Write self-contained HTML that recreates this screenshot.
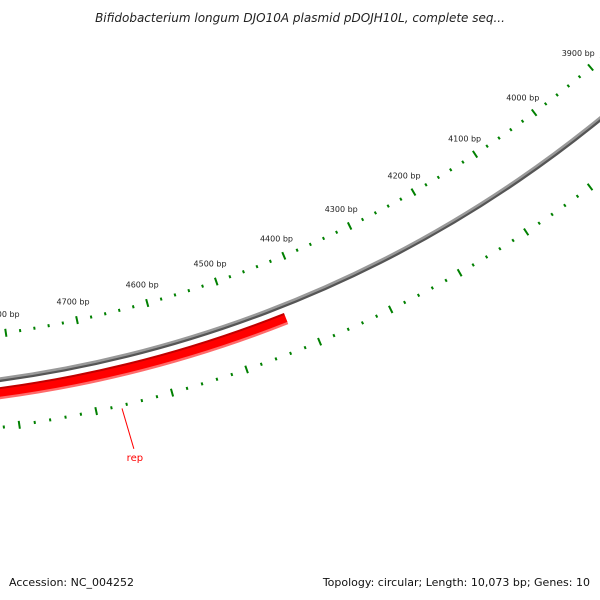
<!DOCTYPE html>
<html><head><meta charset="utf-8"><style>
body{margin:0;background:#fff}
svg{display:block;font-family:"DejaVu Sans","Liberation Sans",sans-serif}
</style></head><body>
<svg id="map" width="600" height="600" viewBox="0 0 600 600">
<text x="300" y="22" text-anchor="middle" font-size="12" font-style="italic" fill="#222">Bifidobacterium longum DJO10A plasmid pDOJH10L, complete seq...</text>
<g id="layer"></g>
<text x="9" y="586" font-size="11" fill="#111">Accession: NC_004252</text>
<text x="590" y="586" font-size="11" fill="#111" text-anchor="end">Topology: circular; Length: 10,073 bp; Genes: 10</text>
</svg>
<script>
const genomeLength = 10073;
const geneNames = ['rep'];
const geneStarts = [5600];
const geneEnds = [4429];
const tickStart = 3700;
const tickEnd = 5200;
const majorStep = 100;
const minorStep = 20;

const CX = -162, CY = -814;
const R_OUT = 1159, R_IN = 1252, R_BACK = 1204, R_GENE = 1217, R_LABEL = 1140;
const REF_BP = 4700, REF_ANG = 78.1;
function ang(bp){ return (REF_ANG + (bp - REF_BP) * 360 / genomeLength) * Math.PI / 180; }
function pt(bp, r){ const a = ang(bp); return [CX + r*Math.cos(a), CY + r*Math.sin(a)]; }
const NS = 'http://www.w3.org/2000/svg';
const layer = document.getElementById('layer');
function mk(tag, attrs){ const e = document.createElementNS(NS, tag); for (const k in attrs) e.setAttribute(k, attrs[k]); layer.appendChild(e); return e; }
function arcPath(b1, b2, r){ const p1 = pt(b1, r), p2 = pt(b2, r); return `M${p1[0]},${p1[1]} A${r},${r} 0 0 0 ${p2[0]},${p2[1]}`; }

// backbone
let bb = mk('path', {d: arcPath(tickEnd, tickStart, R_BACK + 1), stroke: '#555', 'stroke-width': 4, fill: 'none'});


let bb2 = mk('path', {d: arcPath(tickEnd, tickStart, R_BACK - 0.5), stroke: '#999', 'stroke-width': 2.5, fill: 'none'});



// genes
geneNames.forEach((n, i) => {
  let g1 = mk('path', {d: arcPath(geneStarts[i], geneEnds[i], R_GENE + 2), stroke: '#ff6b6b', 'stroke-width': 10, fill: 'none'});
  
  
  let g = mk('path', {d: arcPath(geneStarts[i], geneEnds[i], R_GENE), stroke: '#ff0000', 'stroke-width': 9, fill: 'none'});
  
  
  let g2 = mk('path', {d: arcPath(geneStarts[i], geneEnds[i], R_GENE - 4), stroke: '#c00000', 'stroke-width': 2, fill: 'none'});
  
  
  const lbBp = 4667;
  const a = pt(lbBp, R_IN + 3), b = pt(lbBp - 3, R_IN + 45);
  let ln = mk('line', {x1: a[0], y1: a[1], x2: b[0], y2: b[1], stroke: '#f00', 'stroke-width': 1});
  
  
  let t = mk('text', {x: b[0] + 1, y: b[1] + 12, 'font-size': 10, fill: '#f00', 'text-anchor': 'middle'});
  t.textContent = n;
  
  
});

// ticks
for (let bp = tickStart; bp <= tickEnd; bp += minorStep) {
  const major = bp % majorStep === 0;
  const half = major ? 4 : 1.5;
  [R_OUT, R_IN].forEach((r, k) => {
    const a = pt(bp, r - half), b = pt(bp, r + half);
    let l = mk('line', {x1: a[0], y1: a[1], x2: b[0], y2: b[1], stroke: '#008000', 'stroke-width': 2});
    
    
  });
  if (major) {
    const p = pt(bp, R_LABEL);
    let t = mk('text', {x: p[0], y: p[1] + 3, 'font-size': 8, fill: '#222', 'text-anchor': 'middle'});
    t.textContent = bp + ' bp';
    
    
  }
}
</script>
</body></html>
